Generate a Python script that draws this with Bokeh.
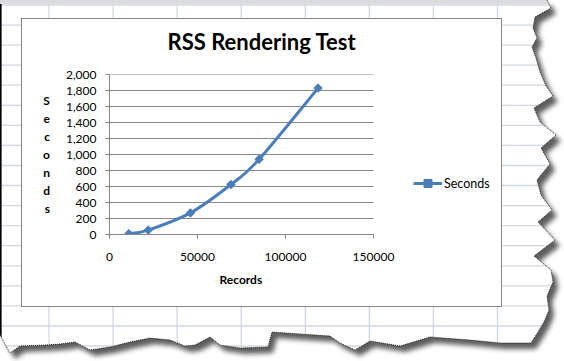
import math
import urllib.parse
from bokeh.plotting import figure
from bokeh.models import (Range1d, FixedTicker, NumeralTickFormatter, BasicTickFormatter,
                          Legend, LegendItem, Title)
from bokeh.embed import file_html
from bokeh.resources import INLINE

# ---------------- data ----------------
records = [11000, 22000, 46000, 69000, 85000, 118500]
seconds = [10, 55, 270, 625, 940, 1830]
x_ticks = [0, 50000, 100000, 150000]
y_ticks = [0, 200, 400, 600, 800, 1000, 1200, 1400, 1600, 1800, 2000]
title_text = "RSS Rendering Test"
x_title = "Records"
y_title = "Seconds"
series_name = "Seconds"

# ---------------- style ----------------
BLUE = "#4A7EBB"
AXIS = "#868686"
SHEET = "#D0D7E5"
FONT = "Lato"
W, H = 564, 361
FL, FR, FT, FB = 109, 373, 74, 234   # plot-area (axes) in page pixels
FRAME_R = 495                         # frame extends right so the legend lies inside it

# ---------------- decorative background (spreadsheet + torn edge) ----------------
right_edge = [(547, 0), (551, 8), (535, 17), (533, 28), (537, 38), (532, 47), (536, 58), (540, 72),
              (546, 86), (553, 96), (534, 108), (540, 122), (556, 135), (541, 148), (550, 164),
              (537, 180), (541, 195), (552, 210), (538, 222), (555, 240), (534, 256), (551, 270),
              (553, 282), (547, 296), (549, 310), (544, 322), (538, 332), (531, 343)]
bottom_edge = [(500, 343), (470, 340), (430, 337), (400, 346), (370, 341), (355, 350), (340, 343),
               (330, 336), (300, 334), (272, 332), (268, 347), (240, 348), (220, 345), (210, 337),
               (195, 345), (185, 346), (170, 340), (150, 338), (130, 342), (110, 347), (90, 350),
               (75, 342), (60, 344), (45, 345), (20, 346), (10, 353), (0, 335)]
edge = right_edge + bottom_edge
poly = "M0,0 " + " ".join(f"L{x},{y}" for x, y in edge) + " Z"
edge_line = "M" + " L".join(f"{x},{y}" for x, y in edge)
lines = []
for k in range(8):
    x = 49 + 64.07 * k
    lines.append(f'<line x1="{x:.1f}" y1="4" x2="{x:.1f}" y2="361" stroke="{SHEET}" stroke-width="1.3"/>')
for k in range(18):
    y = 5 + 20.06 * k
    lines.append(f'<line x1="0" y1="{y:.1f}" x2="564" y2="{y:.1f}" stroke="{SHEET}" stroke-width="1.3"/>')
svg = f'''<svg xmlns="http://www.w3.org/2000/svg" width="{W}" height="{H}" viewBox="0 0 {W} {H}">
<defs>
<filter id="b" x="-10%" y="-10%" width="130%" height="130%"><feGaussianBlur stdDeviation="2.5"/></filter>
<clipPath id="c"><path d="{poly}"/></clipPath>
</defs>
<rect width="{W}" height="{H}" fill="white"/>
<path d="{poly}" fill="#404040" transform="translate(5,6)" filter="url(#b)" opacity="0.85"/>
<path d="{poly}" fill="white"/>
<g clip-path="url(#c)">
<rect x="0" y="0" width="{W}" height="4" fill="#DCDCDC"/>
{''.join(lines)}
<rect x="0" y="4" width="1.6" height="357" fill="black"/>
</g>
<path d="{edge_line}" fill="none" stroke="black" stroke-width="0.8" stroke-dasharray="1 1"/>
<rect x="21.5" y="18.5" width="480" height="288" fill="white" stroke="{AXIS}" stroke-width="1"/>
</svg>'''
uri = "data:image/svg+xml," + urllib.parse.quote(svg)

# ---------------- figure ----------------
x_max = x_ticks[-1]
x_end = x_max * (FRAME_R - FL) / (FR - FL)
p = figure(width=W, height=H, output_backend="svg", toolbar_location=None,
           x_range=Range1d(0, x_end), y_range=Range1d(y_ticks[0], y_ticks[-1]),
           min_border_left=FL, min_border_right=W - FRAME_R,
           min_border_top=FT, min_border_bottom=H - FB)
p.border_fill_color = None
p.background_fill_color = None
p.outline_line_color = None
p.styles = {"background-image": f'url("{uri}")', "background-repeat": "no-repeat",
            "background-size": f"{W}px {H}px"}

# title
p.title.text = title_text
p.title.align = "left"
p.title.offset = 167 - FL
p.title.standoff = 40
p.title.text_font = FONT
p.title.text_font_style = "bold"
p.title.text_font_size = "22px"
p.title.text_color = "black"

# horizontal value gridlines, limited to the axis extent
p.xgrid.visible = False
p.ygrid.visible = False
p.segment(x0=[0] * len(y_ticks), x1=[x_max] * len(y_ticks), y0=y_ticks, y1=y_ticks,
          line_color=AXIS, line_width=1)

# smoothed line (Catmull-Rom style Bezier, as Excel's "smoothed line")
n = len(records)
def pt(i):
    i = max(0, min(n - 1, i))
    return records[i], seconds[i]
x0s, y0s, x1s, y1s, cx0s, cy0s, cx1s, cy1s = ([] for _ in range(8))
for i in range(n - 1):
    (ax, ay), (bx, by), (cx, cy), (dx, dy) = pt(i - 1), pt(i), pt(i + 1), pt(i + 2)
    x0s.append(bx); y0s.append(by); x1s.append(cx); y1s.append(cy)
    cx0s.append(bx + (cx - ax) / 6); cy0s.append(by + (cy - ay) / 6)
    cx1s.append(cx - (dx - bx) / 6); cy1s.append(cy - (dy - by) / 6)
bez = p.bezier(x0=x0s, y0=y0s, x1=x1s, y1=y1s, cx0=cx0s, cy0=cy0s, cx1=cx1s, cy1=cy1s,
               line_color=BLUE, line_width=3)
sc = p.scatter(records, seconds, marker="square", angle=math.pi / 4, size=6,
               fill_color=BLUE, line_color=BLUE, line_width=1)

# axes
xa, ya = p.xaxis[0], p.yaxis[0]
xa.bounds = (0, x_max)
xa.ticker = FixedTicker(ticks=x_ticks)
xa.formatter = BasicTickFormatter(use_scientific=False)
ya.ticker = FixedTicker(ticks=y_ticks)
ya.formatter = NumeralTickFormatter(format="0,0")
for ax in (xa, ya):
    ax.axis_line_color = AXIS
    ax.major_tick_line_color = AXIS
    ax.major_tick_in = 0
    ax.major_tick_out = 4
    ax.minor_tick_line_color = None
    ax.major_label_text_font = FONT
    ax.major_label_text_font_size = "12px"
    ax.major_label_text_color = "black"
    ax.axis_label_text_font = FONT
    ax.axis_label_text_font_style = "bold"
    ax.axis_label_text_font_size = "12px"
    ax.axis_label_text_color = "black"
xa.major_label_standoff = 14
ya.major_label_standoff = 9

# x-axis title, centred under the axis (not under the wider frame)
p.add_layout(Title(text=x_title, align="left", offset=219 - FL, standoff=13,
                   text_font=FONT, text_font_style="bold", text_font_size="12px",
                   text_color="black"), "below")

# stacked vertical title, as Excel draws it
ya.axis_label = "\n".join(y_title)
ya.axis_label_orientation = "horizontal"
ya.axis_label_text_align = "center"
ya.axis_label_text_line_height = 1.2
ya.axis_label_standoff = 13

legend = Legend(items=[LegendItem(label=series_name, renderers=[bez, sc])],
                location=(413 - FL, FB - 193), border_line_color=None,
                background_fill_alpha=0, padding=0, margin=0, glyph_width=29,
                glyph_height=20, label_height=20, label_standoff=2,
                label_text_font=FONT, label_text_font_size="12.5px", label_text_color="black")
p.add_layout(legend)

open("out.html", "w").write(file_html(p, INLINE))
